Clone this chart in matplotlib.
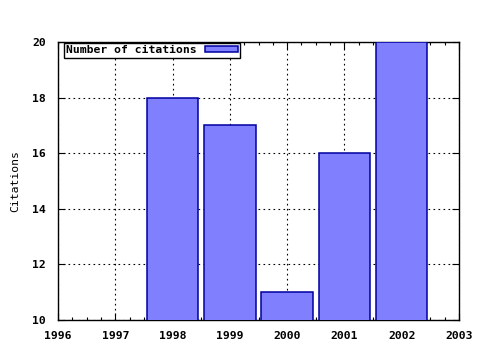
import matplotlib
matplotlib.use("Agg")
import matplotlib.pyplot as plt
from matplotlib.ticker import MultipleLocator

years = [1998, 1999, 2000, 2001, 2002]
citations = [18, 17, 11, 16, 20]
xticks = [1996, 1997, 1998, 1999, 2000, 2001, 2002, 2003]
yticks = [10, 12, 14, 16, 18, 20]

plt.rcParams['font.family'] = ['DejaVu Sans Mono']
plt.rcParams['font.weight'] = 'bold'
plt.rcParams['font.size'] = 8.2

fig = plt.figure(figsize=(4.8, 3.5), dpi=100)
ax = fig.add_axes([58/480, 30/350, 401/480, 278/350])

ax.bar(years, citations, width=0.9, color='#8080ff', edgecolor='#0000a0',
       linewidth=1.1, label='Number of citations', zorder=3)

ax.set_xlim(1996, 2003)
ax.set_ylim(10, 20)
ax.set_xticks(xticks)
ax.set_yticks(yticks)
ax.xaxis.set_minor_locator(MultipleLocator(0.25))
ax.tick_params(which='both', direction='in', top=True, right=True, width=0.8)
ax.tick_params(which='major', length=5)
ax.tick_params(axis='x', which='major', pad=8)
ax.tick_params(axis='y', which='major', pad=8.5)
ax.tick_params(which='minor', length=2.5)
ax.grid(True, which='major', color='black', linestyle=(0, (1.5, 3)), linewidth=0.8, zorder=1)
for s in ax.spines.values():
    s.set_linewidth(1.0)

ax.set_ylabel('Citations', labelpad=9)
for lbl in ax.get_xticklabels() + ax.get_yticklabels():
    lbl.set_fontweight('bold')

leg = ax.legend(loc='upper left', bbox_to_anchor=(6/401, 1 - 1/278),
                borderaxespad=0, markerfirst=False, fancybox=False,
                framealpha=1, edgecolor='black', borderpad=0.2,
                handlelength=2.9, handleheight=0.45, handletextpad=0.7)
leg.get_frame().set_linewidth(1.0)
leg.set_zorder(5)

fig.savefig('out.png', dpi=100)
